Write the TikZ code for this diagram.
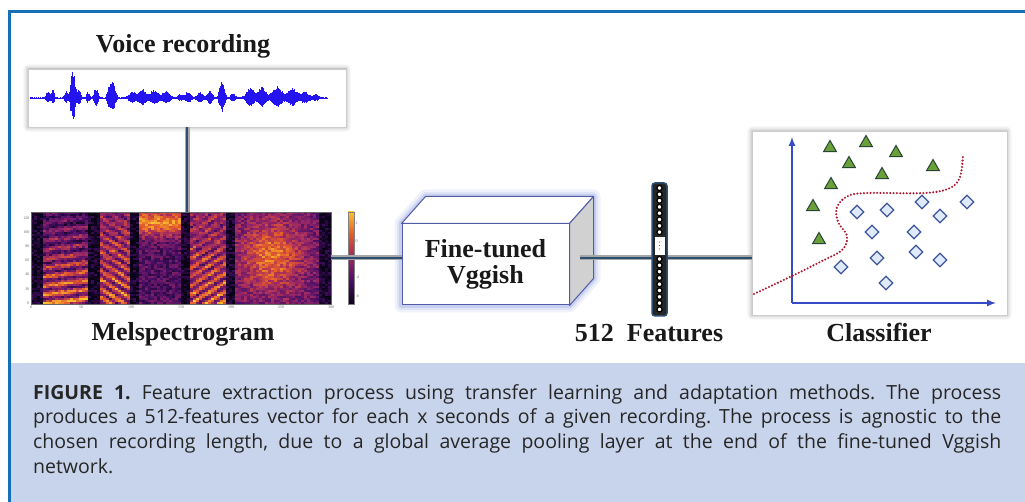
\documentclass[tikz,border=0pt]{standalone}
\usepackage{fontspec}
\setmainfont{Liberation Serif}
\newfontfamily\capfont{Open Sans}
\usetikzlibrary{shapes.geometric,shadows,shadows.blur}

\definecolor{framebl}{RGB}{21,112,184}
\definecolor{capbg}{RGB}{200,212,235}
\definecolor{wavebl}{RGB}{35,20,240}
\definecolor{linkbl}{RGB}{45,80,112}
\definecolor{boxedge}{RGB}{80,92,165}
\definecolor{glowbl}{RGB}{110,130,215}
\definecolor{axisbl}{RGB}{55,75,200}
\definecolor{trigreen}{RGB}{105,160,55}
\definecolor{triedge}{RGB}{40,70,55}
\definecolor{diafill}{RGB}{222,233,250}
\definecolor{diaedge}{RGB}{60,85,155}
\definecolor{sepred}{RGB}{175,20,45}
\definecolor{inf0}{RGB}{8,3,22}
\definecolor{inf1}{RGB}{72,14,102}
\definecolor{inf2}{RGB}{152,38,102}
\definecolor{inf3}{RGB}{226,88,45}
\definecolor{inf4}{RGB}{250,195,45}

\tikzset{
  headline/.style={font=\bfseries\fontsize{26}{27}\selectfont, text=black!90, inner sep=0pt},
  link/.style={line width=2.4pt, draw=linkbl, preaction={draw=black!35, line width=5pt}},
  panel/.style={draw=black!20, fill=white, blur shadow={shadow xshift=0pt, shadow yshift=0pt, shadow blur radius=5pt}},
  tri/.style={regular polygon, regular polygon sides=3, fill=trigreen, draw=triedge, line width=1pt, minimum size=15pt, inner sep=0pt},
  dia/.style={diamond, fill=diafill, draw=diaedge, line width=1.3pt, minimum size=14pt, inner sep=0pt},
  ticklbl/.style={font=\fontsize{4}{4}\selectfont, text=black!60, inner sep=0.5pt},
}

\begin{document}
\begin{tikzpicture}[x=1pt, y=-1pt,
  declare function={
    gb(\xa,\xc,\xw,\xh)=\xh*exp(-1*pow(min(abs(\xa-\xc)/\xw,4),2));
    wenv(\xa)=gb(\xa,48,2.5,5)+gb(\xa,53,2,7)+gb(\xa,66,2,6)+gb(\xa,73,3,24)+gb(\xa,79,2,8)
      +gb(\xa,88,2,5)+gb(\xa,96,2.5,9)+gb(\xa,109,2,10)+gb(\xa,113,3,16)+gb(\xa,132,4,6)
      +gb(\xa,142,5,8)+gb(\xa,154,5,7)+gb(\xa,166,5,6)+gb(\xa,180,3,3)+gb(\xa,188,4,5)
      +gb(\xa,200,4,5)+gb(\xa,210,3,7)+gb(\xa,222,3,16)+gb(\xa,233,3,4)+gb(\xa,250,5,9)
      +gb(\xa,262,5,10)+gb(\xa,277,6,10)+gb(\xa,292,6,9)+gb(\xa,305,5,6)+gb(\xa,316,4,3);
    spv(\xa,\xb)=(\xa>42)*(\xa<88)*(0.28+0.6*(0.5+0.5*sin(40*(\xb-212)+5*(\xa-31))))*(0.35+0.65*(\xb-212)/91))
      +(\xa>97)*(\xa<130)*(0.28+0.6*(0.5+0.5*sin(40*(\xb-212)-25*(\xa-97)))*(0.35+0.65*(\xb-212)/91))
      +(\xa>187)*(\xa<225)*(0.28+0.6*(0.5+0.5*sin(40*(\xb-212)+25*(\xa-187)))*(0.35+0.65*(\xb-212)/91))
      +(\xa>138)*(\xa<180)*(0.22+0.6*exp(-1*pow((\xb-222)/13,2)))
      +(\xa>233)*(\xa<318)*(0.3+0.45*exp(-1*pow((\xa-270)/30,2)-1*pow((\xb-255)/35,2)))
      +0.06;
  }]
\useasboundingbox (0,0) rectangle (1025,502);

% frame and caption field
\fill[capbg] (11,363) rectangle (1025,502);
\draw[framebl, line width=3pt] (9.5,502) -- (9.5,11.5) -- (1025,11.5);

% voice recording
\node[headline, anchor=base] (voicelbl) at (183,53) {Voice recording};
\node[panel, minimum width=318pt, minimum height=58pt, inner sep=0pt] (wavebox) at (187,98) {};
\draw[wavebl, line width=0.8pt] (30,98) -- (328,98);
\pgfmathsetseed{7}
\foreach \x in {30,30.8,...,328}{
  \pgfmathsetmacro\wenvval{1.1*wenv(\x)+0.6}
  \draw[wavebl, line width=1pt] (\x,{98-\wenvval*(0.7+0.3*rnd)}) -- (\x,{98+0.8*\wenvval*(0.7+0.3*rnd)});
}

% melspectrogram
\foreach \i in {0,...,99}{
  \foreach \j in {0,...,45}{
    \pgfmathsetmacro\cellx{31+3*\i}
    \pgfmathsetmacro\celly{212+2*\j}
    \pgfmathsetmacro\cellv{min(max(spv(\cellx,\celly)+0.3*rnd-0.15,0),0.999)}
    \pgfmathtruncatemacro\cellk{floor(4*\cellv)}
    \pgfmathtruncatemacro\cellp{100*(4*\cellv-\cellk)}
    \pgfmathtruncatemacro\cellq{\cellk+1}
    \fill[inf\cellq!\cellp!inf\cellk] (\cellx,\celly) rectangle ++(3.2,2.2);
  }
}
\node[draw=black!60, line width=0.4pt, minimum width=300pt, minimum height=92pt, inner sep=0pt] (spec) at (181,258) {};
\foreach \t [count=\n from 0] in {0,20,...,120}
  \node[ticklbl, anchor=east] (yt\n) at (30,{303-14.2*\n}) {\t};
\foreach \t [count=\n from 0] in {0,50,...,300}
  \node[ticklbl, anchor=north] (xt\n) at ({31+50*\n},305) {\t};
% colour bar
\shade[top color=inf4, bottom color=inf3] (348,212) rectangle (354,235);
\shade[top color=inf3, bottom color=inf2] (348,235) rectangle (354,258);
\shade[top color=inf2, bottom color=inf1] (348,258) rectangle (354,281);
\shade[top color=inf1, bottom color=inf0] (348,281) rectangle (354,304);
\draw[black!50, line width=0.3pt] (348,212) rectangle (354,304);
\foreach \t [count=\n from 0] in {2,0,-2,-4,-6}
  \node[ticklbl, anchor=west] (cb\n) at (355,{223+18.2*\n}) {\t};
\node[headline, anchor=base] (mellbl) at (183,341) {Melspectrogram};

% fine-tuned vggish block
\node[draw=boxedge, fill=white, line width=1pt, minimum width=167pt, minimum height=81pt, inner sep=0pt] (vgg) at (485.5,264.5) {};
\coordinate (vggE) at ([shift={(24,-27)}]vgg.north west);
\coordinate (vggF) at ([shift={(24,-27)}]vgg.north east);
\coordinate (vggG) at ([shift={(24,-27)}]vgg.south east);
\foreach \g/\o in {14/0.10,9/0.14,5/0.2}
  \draw[glowbl, line width=\g pt, opacity=\o, line join=round] (vgg.south west) -- (vgg.north west) -- (vggE) -- (vggF) -- (vggG) -- (vgg.south east) -- cycle;
\filldraw[fill=white, draw=boxedge, line width=1pt, line join=round] (vgg.north west) -- (vggE) -- (vggF) -- (vgg.north east) -- cycle;
\filldraw[fill=black!18, draw=boxedge, line width=1pt, line join=round] (vgg.north east) -- (vggF) -- (vggG) -- (vgg.south east) -- cycle;
\node[draw=boxedge, fill=white, line width=1pt, minimum width=167pt, minimum height=81pt, inner sep=0pt,
  align=center, font=\bfseries\fontsize{26}{26}\selectfont, text=black!90] (vggtxt) at (vgg.center) {Fine-tuned\\Vggish};

% classifier
\node[panel, minimum width=255pt, minimum height=184pt, inner sep=0pt] (cls) at (879.5,223) {};
\coordinate (orig) at (792,303);
\draw[axisbl, line width=2pt, ->, >=latex] (orig) -- (792,137);
\draw[axisbl, line width=2pt, ->, >=latex] (orig) -- (996,303);
\draw[sepred, line width=2.3pt, line cap=round, dash pattern=on 0pt off 3.3pt]
  plot[smooth, tension=0.6] coordinates {(754,294) (792,276) (820,262) (842,250) (847,236) (838,222) (837,207) (848,196) (868,193) (925,193) (950,188) (960,177) (963,155)};
\foreach \p [count=\n] in {(830,148),(866,143),(896,153),(849,164),(882,175),(933,167),(831,185),(813,207),(819,240)}
  \node[tri] (t\n) at \p {};
\foreach \p [count=\n] in {(857,212),(887,210),(922,202),(967,202),(940,216),(872,232),(914,232),(877,258),(916,252),(940,260),(841,267),(886,283)}
  \node[dia] (d\n) at \p {};
\node[headline, anchor=base] (clslbl) at (879,342) {Classifier};

% connectors
\coordinate (vggout) at ([xshift=10pt]spec.east -| vgg.east);
\draw[link] (wavebox.south) -- (wavebox.south |- spec.north);
\draw[link] (spec.east) -- (spec.east -| vgg.west);
\draw[link] (vggout) -- (vggout -| cls.west);

% feature vector
\node[draw=linkbl, fill=black!85, rounded corners=3pt, line width=1.5pt, minimum width=15pt, minimum height=133pt, inner sep=0pt] (vec) at (659.5,249.5) {};
\foreach \k in {0,...,7}
  \draw[black, line width=1.3pt, fill=white] (659.5,{188+6.3*\k}) circle (2.6);
\fill[white] (654.5,237) rectangle (664.5,255);
\foreach \k in {0,1,2}
  \fill[black!60] (659.5,{242+3.5*\k}) circle (0.6);
\foreach \k in {0,...,8}
  \draw[black, line width=1.3pt, fill=white] (659.5,{259+6.3*\k}) circle (2.6);
\node[headline, anchor=base] (veclbl) at (649,342) {512\ \ Features};

% caption
\node[font=\capfont\fontsize{19.5}{24.7}\selectfont, text=black!85, text width=968pt, align=justify,
  anchor=north west, inner sep=0pt] (caption) at (33,384)
  {\frenchspacing\hyphenpenalty=10000 \textbf{FIGURE 1.} Feature extraction process using transfer learning and adaptation methods. The process\linebreak
   produces a 512-features vector for each x seconds of a given recording. The process is agnostic to the\linebreak
   chosen recording length, due to a global average pooling layer at the end of the fine-tuned Vggish\linebreak
   network.};
\end{tikzpicture}
\end{document}
